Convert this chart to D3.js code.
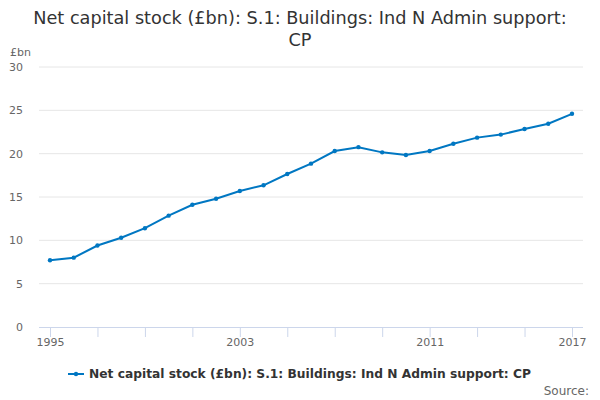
<!DOCTYPE html>
<html>
<head>
<meta charset="utf-8">
<script src="https://d3js.org/d3.v7.min.js"></script>
<style>
  body { margin: 0; background: #fff; }
  svg { font-family: "DejaVu Sans", sans-serif; }
</style>
</head>
<body>
<div id="chart"></div>
<script>
// values
const years = d3.range(1995, 2018);
const stock = [7.7, 8.0, 9.4, 10.3, 11.4, 12.85, 14.1, 14.8, 15.7, 16.35, 17.65, 18.85,
               20.3, 20.75, 20.15, 19.85, 20.3, 21.15, 21.85, 22.2, 22.85, 23.45, 24.6];
const yTicks = [0, 5, 10, 15, 20, 25, 30];
const xLabels = [1995, 2003, 2011, 2017];
const seriesName = "Net capital stock (£bn): S.1: Buildings: Ind N Admin support: CP";

const width = 600, height = 400;
const plotLeft = 39, plotRight = 583, plotTop = 67, plotBottom = 327;

const svg = d3.select('#chart').append('svg')
  .attr('width', width).attr('height', height);

// title
svg.append('text')
  .attr('x', 300).attr('y', 24)
  .attr('text-anchor', 'middle')
  .style('font-size', '17.7px').style('fill', '#333')
  .text('Net capital stock (£bn): S.1: Buildings: Ind N Admin support:');
svg.append('text')
  .attr('x', 300).attr('y', 46)
  .attr('text-anchor', 'middle')
  .style('font-size', '17.7px').style('fill', '#333')
  .text('CP');

const x = d3.scaleLinear().domain([1995, 2017]).range([50, 572]);
const y = d3.scaleLinear().domain([0, 30]).range([plotBottom, plotTop]);

// gridlines
svg.append('g').selectAll('line')
  .data(yTicks.filter(d => d > 0))
  .enter().append('line')
  .attr('x1', plotLeft).attr('x2', plotRight)
  .attr('y1', d => y(d)).attr('y2', d => y(d))
  .attr('stroke', '#e6e6e6').attr('stroke-width', 1);

// y labels
svg.append('g').selectAll('text')
  .data(yTicks)
  .enter().append('text')
  .attr('x', 23).attr('y', d => y(d) + 4)
  .attr('text-anchor', 'end')
  .style('font-size', '11px').style('fill', '#666')
  .text(d => d);

svg.append('text')
  .attr('x', 10).attr('y', 56)
  .style('font-size', '11px').style('fill', '#666')
  .text('£bn');

// x axis
const xAxis = d3.axisBottom(x)
  .tickValues(years.filter(d => (d - 1995) % 2 === 0))
  .tickSize(10)
  .tickFormat(d => xLabels.includes(d) ? d : '');
const gx = svg.append('g').attr('transform', `translate(0,${plotBottom})`).call(xAxis);
gx.select('.domain').remove();
gx.selectAll('.tick line').attr('stroke', '#ccd6eb');
gx.selectAll('.tick text').attr('y', 11)
  .style('font-size', '11px').style('fill', '#666')
  .style('font-family', '"DejaVu Sans", sans-serif');
gx.append('line')
  .attr('x1', plotLeft).attr('x2', plotRight)
  .attr('y1', 0.5).attr('y2', 0.5)
  .attr('stroke', '#ccd6eb');

// line
const line = d3.line()
  .x((d, i) => x(years[i]))
  .y(d => y(d));

svg.append('path')
  .datum(stock)
  .attr('d', line)
  .attr('fill', 'none')
  .attr('stroke', '#0077c2')
  .attr('stroke-width', 2);

svg.append('g').selectAll('circle')
  .data(stock)
  .enter().append('circle')
  .attr('cx', (d, i) => x(years[i]))
  .attr('cy', d => y(d))
  .attr('r', 2.2)
  .attr('fill', '#0077c2');

// legend
const lg = svg.append('g');
lg.append('line')
  .attr('x1', 68).attr('x2', 84).attr('y1', 374).attr('y2', 374)
  .attr('stroke', '#0077c2').attr('stroke-width', 2);
lg.append('circle').attr('cx', 76).attr('cy', 374).attr('r', 2.2).attr('fill', '#0077c2');
lg.append('text')
  .attr('x', 89).attr('y', 378)
  .style('font-size', '12.25px').style('font-weight', 'bold').style('fill', '#333')
  .text(seriesName);

svg.append('text')
  .attr('x', 589).attr('y', 395)
  .attr('text-anchor', 'end')
  .style('font-size', '12px').style('fill', '#666')
  .text('Source:');
</script>
</body>
</html>
